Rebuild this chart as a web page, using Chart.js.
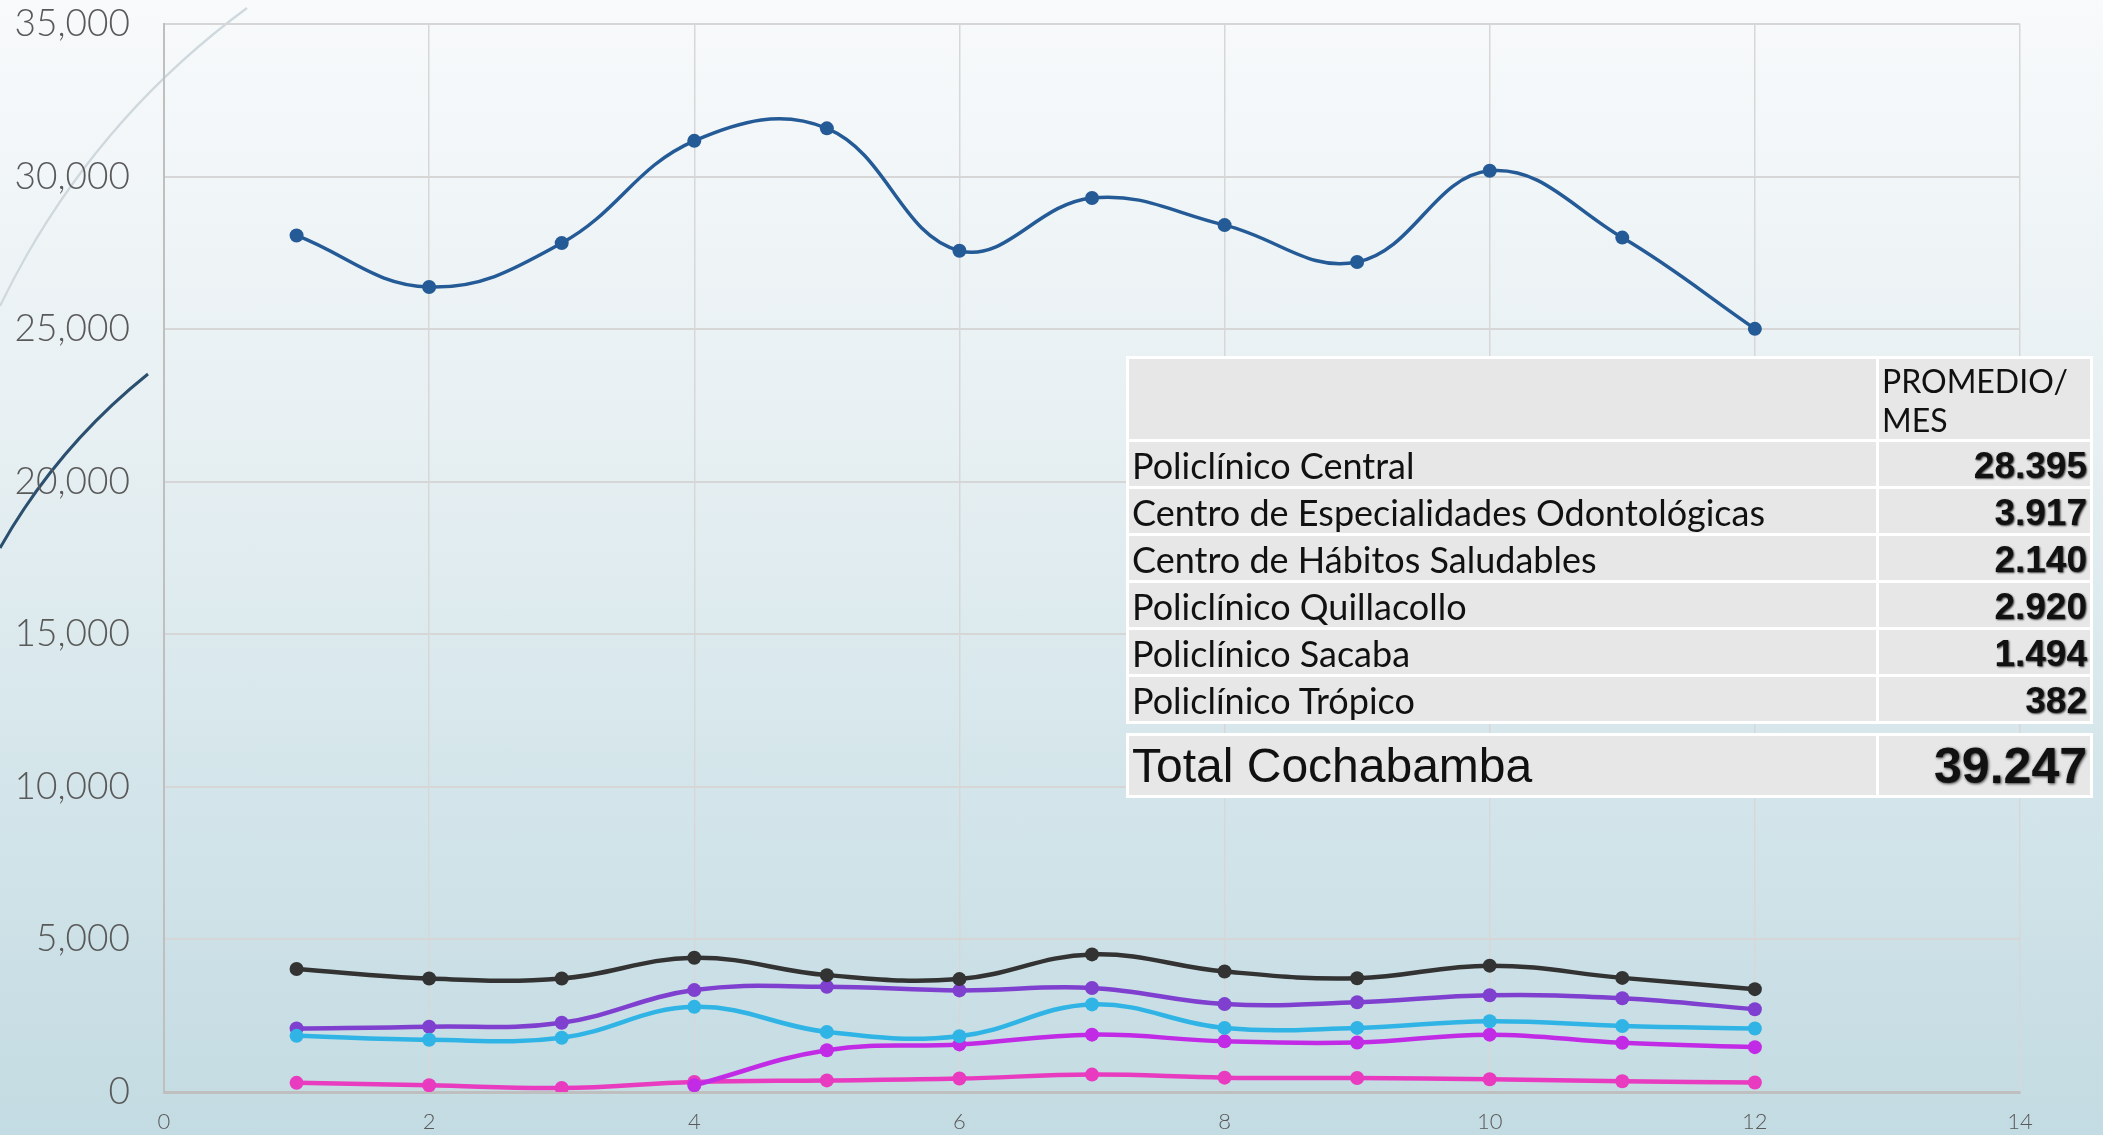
<!DOCTYPE html>
<html><head><meta charset="utf-8">
<script src="https://cdn.jsdelivr.net/npm/chart.js@4.4.1/dist/chart.umd.min.js"></script>
<style>
html,body{margin:0;padding:0;width:2103px;height:1135px;overflow:hidden;}
body{background:linear-gradient(to bottom,#f8fafb 0%,#e6eff2 40%,#d3e5ea 70%,#c3dbe2 100%);position:relative;font-family:Lato,sans-serif;}
#deco{position:absolute;left:0;top:0;}
#c{position:absolute;left:0;top:0;}
table{position:absolute;border-collapse:collapse;table-layout:fixed;}
td{background:#e7e7e7;border:3px solid #fff;padding:0 3px;color:#111;white-space:nowrap;overflow:hidden;}
td.lab{font-family:Lato,sans-serif;font-size:36px;vertical-align:bottom;line-height:41px;}
td.num{font-family:"Liberation Sans",Arial,sans-serif;font-weight:bold;font-size:37px;text-align:right;vertical-align:bottom;line-height:41px;text-shadow:1px 1px 2px rgba(0,0,0,0.75);}
td.head{font-family:Lato,sans-serif;font-size:32px;line-height:39px;vertical-align:top;padding-top:2px;}
td.tlab{font-family:"Liberation Sans",Arial,sans-serif;font-size:48px;vertical-align:middle;}
td.tnum{font-family:"Liberation Sans",Arial,sans-serif;font-weight:bold;font-size:50px;text-align:right;vertical-align:middle;text-shadow:1px 1px 3px rgba(0,0,0,0.75);}
</style>
</head>
<body>
<svg id="deco" width="2103" height="1135">
  <path d="M 247 8 Q 87 126 0 306" stroke="#cfd8dc" stroke-width="2.2" fill="none"/>
  <path d="M 148 374 Q 57 447 0 548" stroke="#2b4f6e" stroke-width="3" fill="none"/>
</svg>
<canvas id="c" width="2103" height="1135"></canvas>
<div id="tables"></div>
<script>
// ---- data ----
const months = [1, 2, 3, 4, 5, 6, 7, 8, 9, 10, 11, 12];
const central     = [28070, 26380, 27820, 31170, 31580, 27570, 29300, 28410, 27200, 30190, 28000, 25010];
const odonto      = [4030, 3720, 3720, 4400, 3830, 3700, 4510, 3950, 3730, 4140, 3740, 3370];
const habitos     = [1840, 1710, 1780, 2790, 1970, 1830, 2870, 2100, 2100, 2320, 2160, 2080];
const quillacollo = [2080, 2140, 2270, 3340, 3450, 3330, 3410, 2880, 2940, 3170, 3070, 2710];
const sacaba      = [null, null, null, 220, 1370, 1560, 1880, 1660, 1620, 1880, 1610, 1470];
const tropico     = [300, 220, 130, 330, 380, 440, 570, 470, 460, 420, 350, 310];

const seriesNames = ['Policlínico Central', 'Centro de Especialidades Odontológicas', 'Centro de Hábitos Saludables', 'Policlínico Quillacollo', 'Policlínico Sacaba', 'Policlínico Trópico'];
const seriesColors = ['#245a96', '#333333', '#30b4e6', '#7f3fcf', '#c22be5', '#e83bbf'];
const seriesWidths = [3.5, 4.5, 4.5, 4.5, 4.5, 4.5];
const seriesValues = [central, odonto, habitos, quillacollo, sacaba, tropico];

const headerText = ['PROMEDIO/', 'MES'];
const tableLabels = ['Policlínico Central', 'Centro de Especialidades Odontológicas', 'Centro de Hábitos Saludables', 'Policlínico Quillacollo', 'Policlínico Sacaba', 'Policlínico Trópico'];
const tableValues = ['28.395', '3.917', '2.140', '2.920', '1.494', '382'];
const totalLabel = 'Total Cochabamba';
const totalValue = '39.247';

const xMin = 0, xMax = 14, xStep = 2;
const yMin = 0, yMax = 35000, yStep = 5000;

// ---- chart ----
const datasets = seriesValues.map((vals, i) => ({
  label: seriesNames[i],
  data: months.map((m, j) => ({x: m, y: vals[j]})),
  borderColor: seriesColors[i],
  backgroundColor: seriesColors[i],
  pointBackgroundColor: seriesColors[i],
  pointBorderColor: seriesColors[i],
  borderWidth: seriesWidths[i],
  pointRadius: 7,
  pointBorderWidth: 0,
  tension: 0.4,
  spanGaps: false,
  fill: false
}));

new Chart(document.getElementById('c'), {
  type: 'line',
  data: {datasets},
  options: {
    responsive: false,
    animation: false,
    layout: {padding: {top: 24, right: 83, left: 0, bottom: 0}},
    plugins: {legend: {display: false}, tooltip: {enabled: false}},
    scales: {
      x: {
        type: 'linear', min: xMin, max: xMax,
        ticks: {stepSize: xStep, font: {family: 'Lato', size: 22, weight: '300'}, color: '#595959', padding: 17},
        grid: {color: '#d7d7d7', lineWidth: 1.5, drawTicks: false},
        border: {color: '#bfbfbf', width: 3},
        afterFit(s) { s.height = 43; s.paddingLeft = 0; s.paddingRight = 0; }
      },
      y: {
        min: yMin, max: yMax,
        ticks: {stepSize: yStep, callback: v => v.toLocaleString('en-US'), font: {family: 'Lato', size: 37, weight: '300'}, color: '#595959', padding: 34},
        grid: {color: '#d6d6d6', lineWidth: 2, drawTicks: false},
        border: {color: '#bfbfbf', width: 2},
        afterFit(s) { s.width = 164; s.paddingTop = 0; s.paddingBottom = 0; }
      }
    }
  }
});

// ---- table ----
const host = document.getElementById('tables');
let html = '<table style="left:1126px;top:356px;width:964px;"><colgroup><col style="width:750px"><col style="width:214px"></colgroup>';
html += '<tr style="height:78px"><td></td><td class="head">' + headerText.join('<br>') + '</td></tr>';
tableLabels.forEach((l, i) => {
  html += '<tr style="height:47px"><td class="lab">' + l + '</td><td class="num">' + tableValues[i] + '</td></tr>';
});
html += '</table>';
html += '<table style="left:1126px;top:733px;width:964px;"><colgroup><col style="width:750px"><col style="width:214px"></colgroup>';
html += '<tr style="height:62px"><td class="tlab">' + totalLabel + '</td><td class="tnum">' + totalValue + '</td></tr></table>';
host.innerHTML = html;
</script>
</body></html>
